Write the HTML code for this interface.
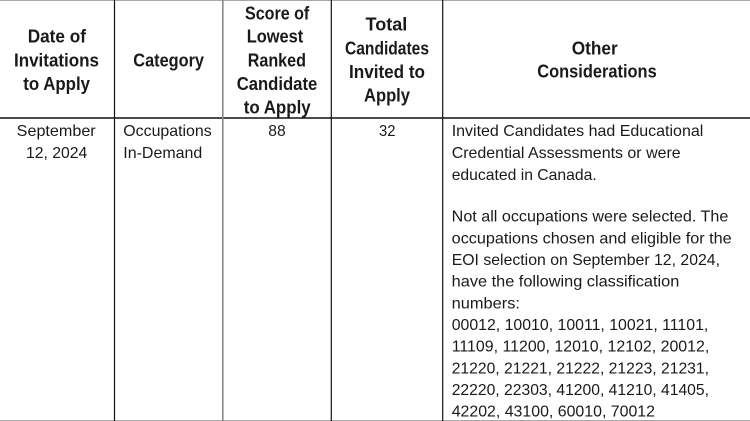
<!DOCTYPE html>
<html><head><meta charset="utf-8"><style>
html,body{margin:0;padding:0;background:#fff;}
svg{display:block;}
text{font-family:"Liberation Sans",Arial,sans-serif;fill:#1a1a1a;}
.h{font-weight:bold;font-size:18px;}
.b{font-size:16px;}
</style></head><body>
<svg width="750" height="421" viewBox="0 0 750 421" xmlns="http://www.w3.org/2000/svg">
<rect width="750" height="421" fill="#fff"/>
<line x1="0" y1="0.5" x2="750" y2="0.5" stroke="#a8a8a8" stroke-width="1"/>
<line x1="0" y1="420.5" x2="750" y2="420.5" stroke="#a8a8a8" stroke-width="1"/>
<line x1="0" y1="118" x2="750" y2="118" stroke="#111" stroke-width="1.5"/>
<line x1="114.5" y1="0" x2="114.5" y2="421" stroke="#111" stroke-width="1.2"/>
<line x1="222.8" y1="0" x2="222.8" y2="421" stroke="#8a8a8a" stroke-width="1.6"/>
<line x1="331.3" y1="0" x2="331.3" y2="421" stroke="#111" stroke-width="1.2"/>
<line x1="442.7" y1="0" x2="442.7" y2="421" stroke="#111" stroke-width="1.2"/>

<g class="h">
<text x="27.7" y="42.7" textLength="58.3" lengthAdjust="spacingAndGlyphs">Date of</text>
<text x="14" y="66.5" textLength="85" lengthAdjust="spacingAndGlyphs">Invitations</text>
<text x="23.3" y="89.8" textLength="66.7" lengthAdjust="spacingAndGlyphs">to Apply</text>
<text x="133.3" y="66.5" textLength="70.7" lengthAdjust="spacingAndGlyphs">Category</text>
<text x="245" y="19.3" textLength="64.3" lengthAdjust="spacingAndGlyphs">Score of</text>
<text x="246.7" y="42.7" textLength="56.6" lengthAdjust="spacingAndGlyphs">Lowest</text>
<text x="247.7" y="66.5" textLength="58.3" lengthAdjust="spacingAndGlyphs">Ranked</text>
<text x="236.7" y="90" textLength="80.6" lengthAdjust="spacingAndGlyphs">Candidate</text>
<text x="243.7" y="113.3" textLength="67" lengthAdjust="spacingAndGlyphs">to Apply</text>
<text x="365.5" y="30.7" textLength="41.8" lengthAdjust="spacingAndGlyphs">Total</text>
<text x="345" y="54.3" textLength="84" lengthAdjust="spacingAndGlyphs">Candidates</text>
<text x="349" y="77.8" textLength="76" lengthAdjust="spacingAndGlyphs">Invited to</text>
<text x="364" y="101.3" textLength="46" lengthAdjust="spacingAndGlyphs">Apply</text>
<text x="571.7" y="54.3" textLength="46" lengthAdjust="spacingAndGlyphs">Other</text>
<text x="537.3" y="77.7" textLength="119.4" lengthAdjust="spacingAndGlyphs">Considerations</text>
</g>

<g class="b">
<text x="16.7" y="136" textLength="79" lengthAdjust="spacingAndGlyphs">September</text>
<text x="26" y="158" textLength="61.3" lengthAdjust="spacingAndGlyphs">12, 2024</text>
<text x="123.3" y="136" textLength="88.4" lengthAdjust="spacingAndGlyphs">Occupations</text>
<text x="123.3" y="158" textLength="79" lengthAdjust="spacingAndGlyphs">In-Demand</text>
<text x="268.3" y="136" textLength="17.4" lengthAdjust="spacingAndGlyphs">88</text>
<text x="379" y="136" textLength="16.5" lengthAdjust="spacingAndGlyphs">32</text>

<text x="451.7" y="136" textLength="251.6" lengthAdjust="spacingAndGlyphs">Invited Candidates had Educational</text>
<text x="451.7" y="158" textLength="229" lengthAdjust="spacingAndGlyphs">Credential Assessments or were</text>
<text x="451.7" y="180" textLength="145" lengthAdjust="spacingAndGlyphs">educated in Canada.</text>

<text x="451.7" y="221.7" textLength="276.6" lengthAdjust="spacingAndGlyphs">Not all occupations were selected. The</text>
<text x="451.7" y="243.3" textLength="280" lengthAdjust="spacingAndGlyphs">occupations chosen and eligible for the</text>
<text x="451.7" y="265" textLength="268.3" lengthAdjust="spacingAndGlyphs">EOI selection on September 12, 2024,</text>
<text x="451.7" y="286.7" textLength="227.6" lengthAdjust="spacingAndGlyphs">have the following classification</text>
<text x="451.7" y="308.3" textLength="68.3" lengthAdjust="spacingAndGlyphs">numbers:</text>
<text x="451.7" y="330" textLength="256.6" lengthAdjust="spacingAndGlyphs">00012, 10010, 10011, 10021, 11101,</text>
<text x="451.7" y="351.7" textLength="257.6" lengthAdjust="spacingAndGlyphs">11109, 11200, 12010, 12102, 20012,</text>
<text x="451.7" y="373.3" textLength="257.3" lengthAdjust="spacingAndGlyphs">21220, 21221, 21222, 21223, 21231,</text>
<text x="451.7" y="395" textLength="257.3" lengthAdjust="spacingAndGlyphs">22220, 22303, 41200, 41210, 41405,</text>
<text x="451.7" y="416.7" textLength="203.3" lengthAdjust="spacingAndGlyphs">42202, 43100, 60010, 70012</text>
</g>
</svg>
</body></html>
